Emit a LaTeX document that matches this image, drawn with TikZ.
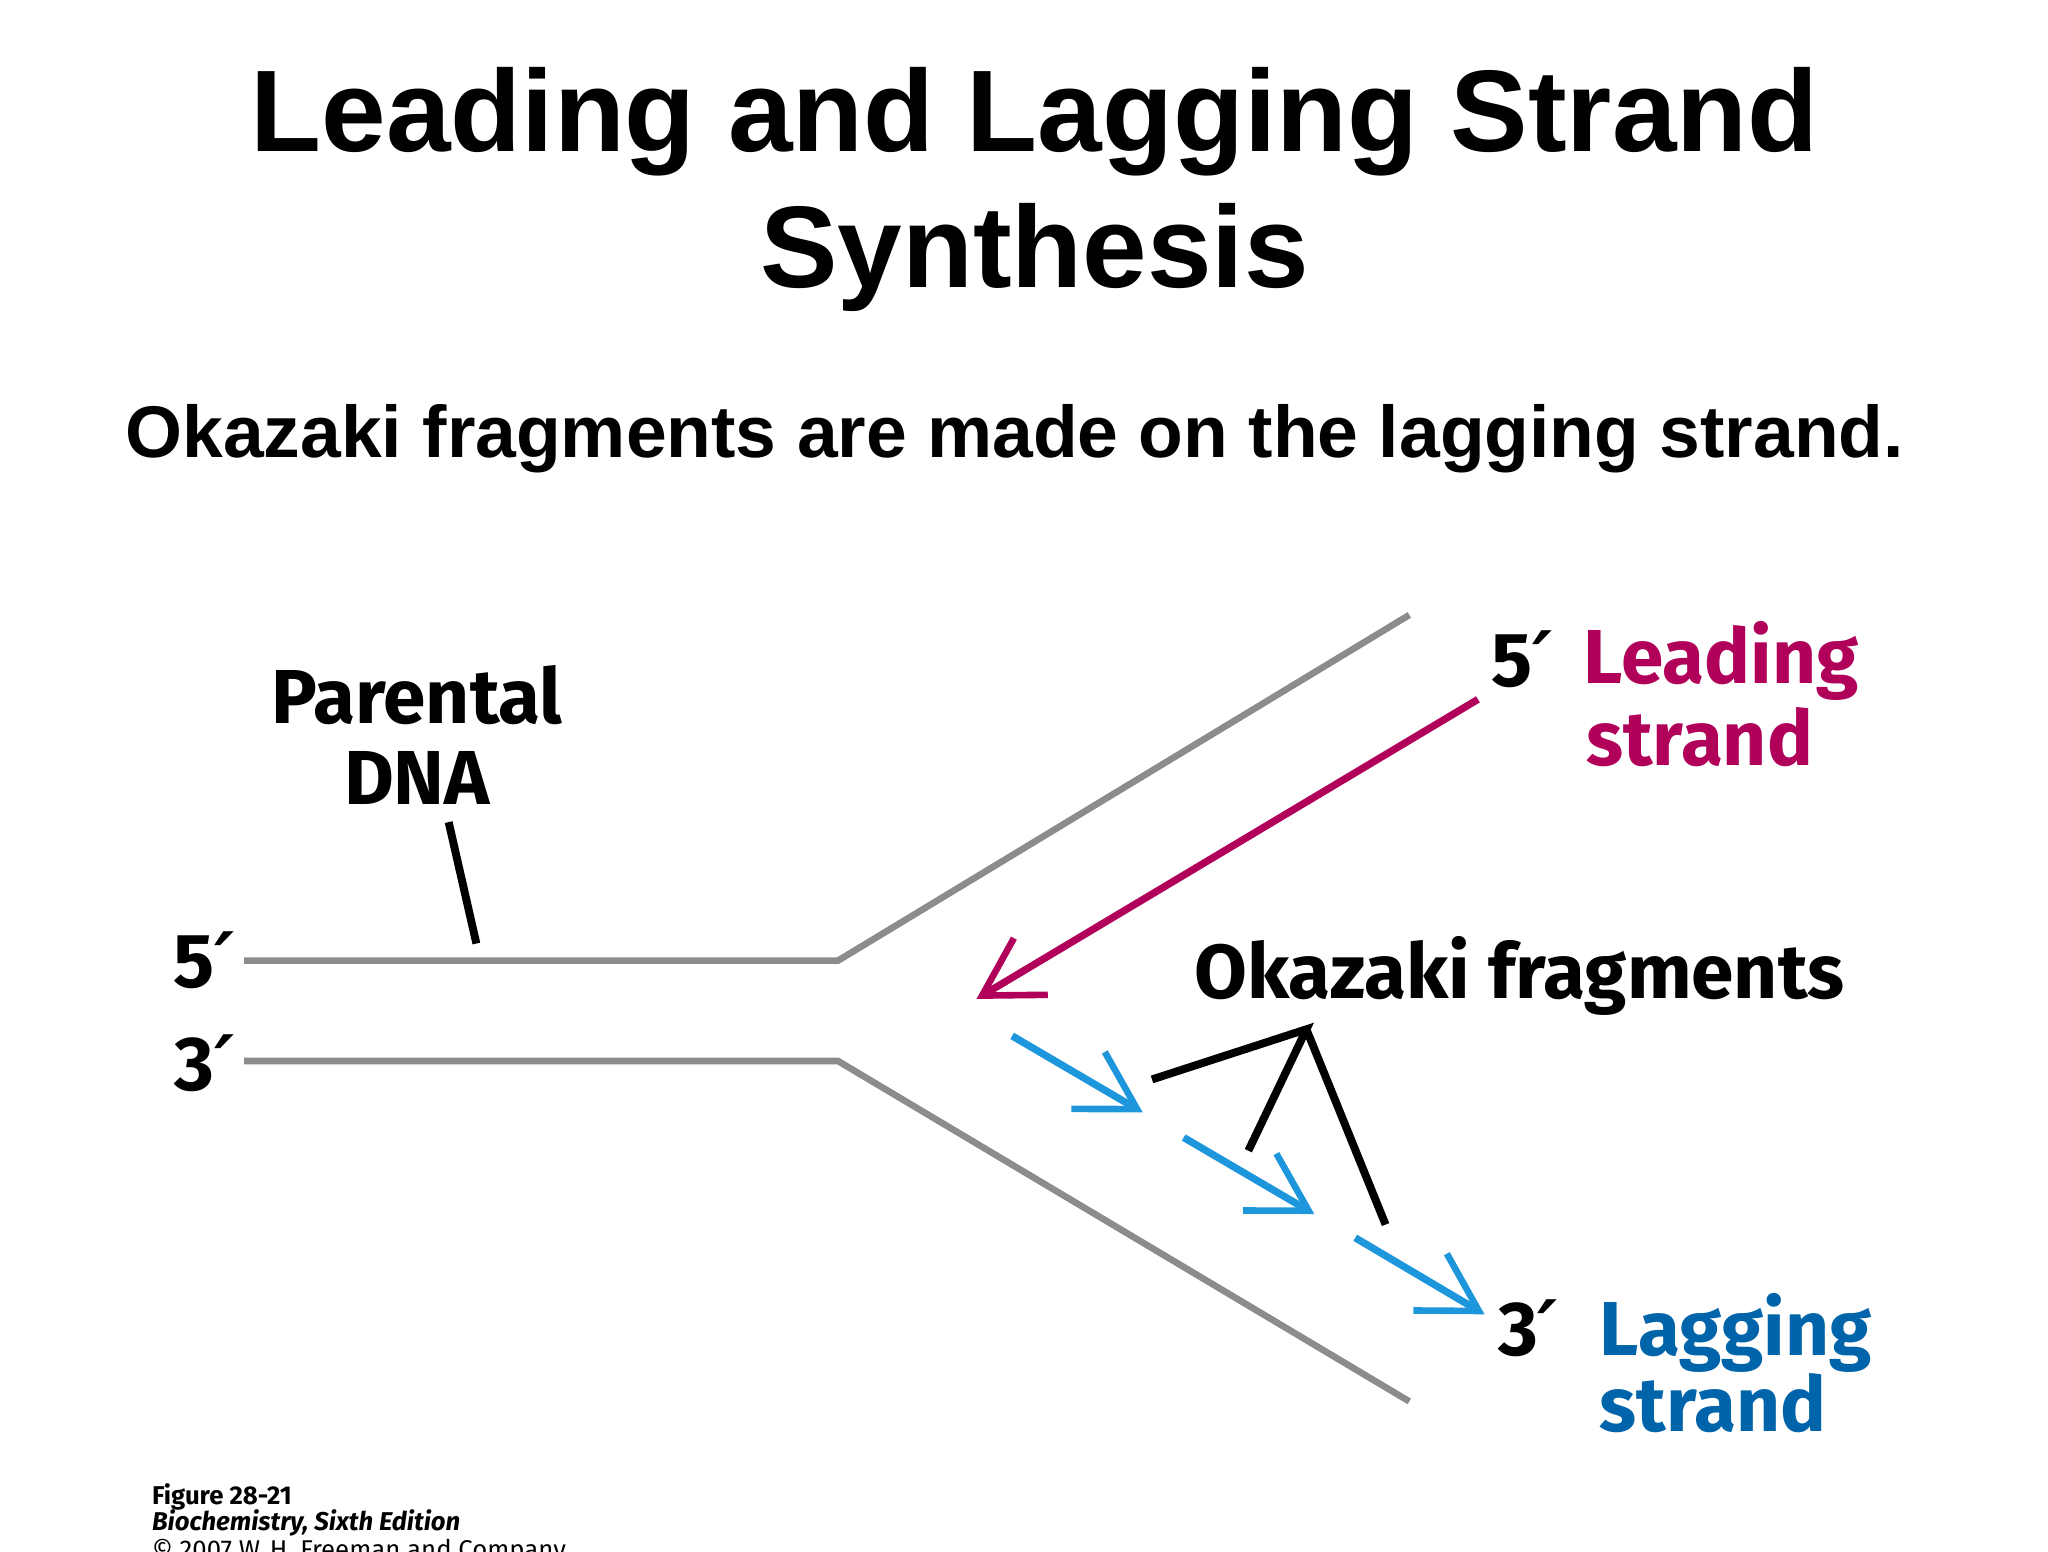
\documentclass[tikz,border=0pt]{standalone}
\usepackage{fontspec}
\setmainfont{Liberation Sans}
\newfontfamily\fig{Fira Sans}
\newfontfamily\prm{DejaVu Sans}
\newcommand{\pr}{{\prm\bfseries\itshape ′}}
\usetikzlibrary{arrows.meta}
\definecolor{lead}{RGB}{176,0,90}
\definecolor{lagtxt}{RGB}{0,100,170}
\definecolor{lagarr}{RGB}{30,150,220}
\definecolor{strandgray}{RGB}{140,140,140}
\tikzset{
 strandline/.style={draw=strandgray,line width=5pt},
 ptr/.style={draw=black,line width=6pt},
 barb/.style={-{Straight Barb[length=43pt,width=50pt,line width=5pt]},line width=5.5pt},
 lbl/.style={inner sep=0pt,anchor=base west,font=\fig\bfseries\fontsize{58}{62}\selectfont},
 ttl/.style={inner sep=0pt,anchor=base,font=\bfseries\fontsize{88}{96}\selectfont},
 ft/.style={inner sep=0pt,anchor=base west,font=\fig\fontsize{19.5}{21}\selectfont},
}
\begin{document}
\begin{tikzpicture}[x=1pt,y=-1pt]
\useasboundingbox (0,0) rectangle (1552,1176);
\node[ttl] (title1) at (784,115) {Leading and Lagging Strand};
\node[ttl] (title2) at (784,218) {Synthesis};
\node[inner sep=0pt,anchor=base,font=\bfseries\fontsize{55.5}{60}\selectfont] (sub) at (769,347) {Okazaki fragments are made on the lagging strand.};
% strands
\coordinate (t0) at (185,728); \coordinate (t1) at (635,728); \coordinate (t2) at (1068,466);
\coordinate (b0) at (185,804); \coordinate (b1) at (635,804); \coordinate (b2) at (1068,1062);
\draw[strandline] (t0) -- (t1) -- (t2);
\draw[strandline] (b0) -- (b1) -- (b2);
% labels
\node[lbl,anchor=base] (par1) at (316,548) {Parental};
\node[lbl,anchor=base] (par2) at (316,610) {DNA};
\coordinate (p0) at (340,623); \coordinate (p1) at (361,715);
\draw[ptr] (p0) -- (p1);
\node[lbl,anchor=base east] (f5) at (178,748) {5\pr};
\node[lbl,anchor=base east] (f3) at (178,826) {3\pr};
% leading
\coordinate (l0) at (1120,530); \coordinate (l1) at (740,757);
\draw[barb,lead] (l0) -- (l1);
\node[lbl] (l5) at (1130,520) {5\pr};
\node[lbl,text=lead] (lead1) at (1200,518) {Leading};
\node[lbl,text=lead] (lead2) at (1202,580) {strand};
% lagging
\coordinate (a0) at (767,785); \coordinate (a1) at (866,843);
\coordinate (c0) at (897,862); \coordinate (c1) at (996,920);
\coordinate (d0) at (1027,938); \coordinate (d1) at (1125,996);
\draw[barb,lagarr] (a0) -- (a1);
\draw[barb,lagarr] (c0) -- (c1);
\draw[barb,lagarr] (d0) -- (d1);
\node[lbl] (a3) at (1135,1027) {3\pr};
\node[lbl,text=lagtxt] (lag1) at (1212,1027) {Lagging};
\node[lbl,text=lagtxt] (lag2) at (1212,1085) {strand};
\node[lbl] (ok) at (905,757) {Okazaki fragments};
\coordinate (o0) at (873,818); \coordinate (o1) at (990,780); \coordinate (o2) at (946,872); \coordinate (o3) at (1050,928);
\draw[ptr] (o0) -- (o1) -- (o2);
\draw[ptr] (o1) -- (o3);
% footer
\node[ft] (foot1) at (115,1140) {\bfseries Figure 28-21};
\node[ft] (foot2) at (115,1160) {\bfseries\itshape Biochemistry, Sixth Edition};
\node[ft] (foot3) at (115,1181) {© 2007 W.\,H. Freeman and Company};
\end{tikzpicture}
\end{document}
